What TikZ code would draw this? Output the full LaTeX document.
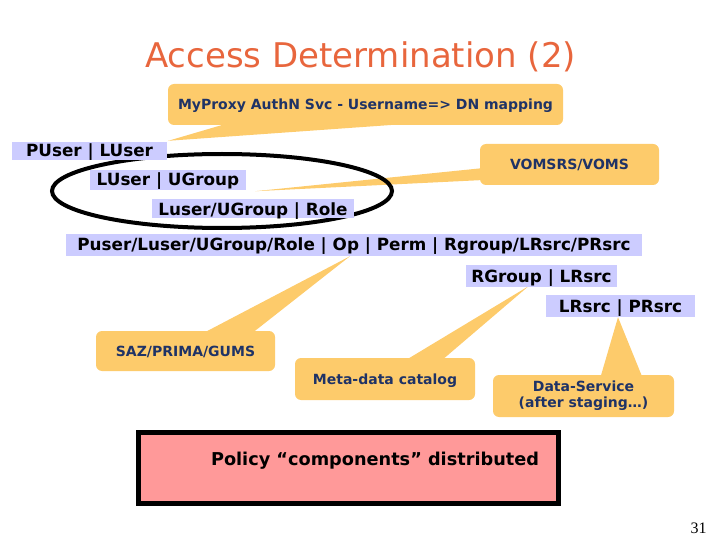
\documentclass[tikz,border=0pt]{standalone}
\usepackage{fontspec}
\setmainfont{DejaVu Sans}
\newfontfamily\pagenumfont{Liberation Serif}
\usepackage{tikz}
\usetikzlibrary{calc, shapes.geometric}

\definecolor{bubblefill}{HTML}{FDCB6B}
\definecolor{bubbleink}{HTML}{1F3366}
\definecolor{tagfill}{HTML}{CCCCFF}
\definecolor{policyfill}{HTML}{FF9999}
\definecolor{titleink}{HTML}{E8663D}

\pgfdeclarelayer{ptrlayer}
\pgfdeclarelayer{ringlayer}
\pgfsetlayers{ptrlayer,ringlayer,main}

\begin{document}
\begin{tikzpicture}[
    x=1pt, y=-1pt,
    heading/.style={font=\fontsize{34}{40}\selectfont, text=titleink, inner sep=0pt},
    tag/.style={fill=tagfill, inner sep=0pt, text height=12pt, text depth=0pt, font=\fontsize{16.8}{19}\selectfont\bfseries},
    bubble/.style={fill=bubblefill, rounded corners=6pt, inner sep=0pt, align=center, text=bubbleink, font=\fontsize{14}{16}\selectfont\bfseries},
    callptr/.style={fill=bubblefill},
    ring/.style={ellipse, draw, line width=4pt, inner sep=0pt},
    policy/.style={draw, line width=5pt, fill=policyfill, inner sep=0pt},
    policytext/.style={font=\fontsize{17.7}{20}\selectfont\bfseries, inner sep=0pt}
]
\useasboundingbox (0,0) rectangle (720,540);

% titel
\node[heading, anchor=base] (title) at (360.5,68) {Access Determination (2)};

% lilla felter
\node[tag, minimum width=155, minimum height=18] (puser) at (89.5,151) {PUser | LUser};
\node[tag, minimum width=156, minimum height=20] (luser) at (168,180) {LUser | UGroup};
\node[tag, minimum width=202, minimum height=19] (role) at (253,209) {Luser/UGroup | Role};
\node[tag, minimum width=576, minimum height=22] (perm) at (354,245) {Puser/Luser/UGroup/Role | Op | Perm | Rgroup/LRsrc/PRsrc};
\node[tag, minimum width=151, minimum height=22] (rgroup) at (541.5,276) {RGroup | LRsrc};
\node[tag, minimum width=149, minimum height=22] (lrsrc) at (620.5,306) {LRsrc | PRsrc};

% talebobler
\node[bubble, minimum width=395, minimum height=41, text height=10pt, text depth=0pt] (myproxy) at (365.5,104.5) {MyProxy AuthN Svc - Username=> DN mapping};
\node[bubble, minimum width=179, minimum height=41, text height=10pt, text depth=0pt] (voms) at (569.5,164.5) {VOMSRS/VOMS};
\node[bubble, minimum width=179, minimum height=40, text height=10pt, text depth=0pt] (saz) at (185.5,351) {SAZ/PRIMA/GUMS};
\node[bubble, minimum width=180, minimum height=42, text height=10pt, text depth=0pt] (meta) at (385,379) {Meta-data catalog};
\node[bubble, minimum width=181, minimum height=42] (dserv) at (583.5,396) {Data-Service\\(after staging…)};

% spidser
\coordinate (vomstip) at ($(luser.south east)+(9,1)$);
\begin{pgfonlayer}{ptrlayer}
\fill[callptr] ($(myproxy.south west)!0.17!(myproxy.south east)+(0,-4)$) -- ($(puser.north east)+(1,-1)$) -- ($(myproxy.south west)!0.7!(myproxy.south east)+(0,-4)$) -- cycle;
\fill[callptr] ($(voms.west)+(4,3.5)$) -- (vomstip) -- ($(voms.west)+(4,15.5)$) -- cycle;
\fill[callptr] ($(saz.north)+(14.5,4)$) -- ($(perm.south)+(-4,0)$) -- ($(saz.north)+(64.5,4)$) -- cycle;
\fill[callptr] ($(meta.north)+(18,4)$) -- ($(rgroup.south)+(-13,-1)$) -- ($(meta.north)+(55,4)$) -- cycle;
\fill[callptr] ($(dserv.north)+(16.5,4)$) -- ($(lrsrc.south)+(-2.5,0)$) -- ($(dserv.north)+(59.5,4)$) -- cycle;
\end{pgfonlayer}

% ring om brugerdelen
\begin{pgfonlayer}{ringlayer}
\node[ring, minimum width=340, minimum height=74] (ring) at (222,191) {};
\end{pgfonlayer}

% politik
\node[policy, minimum width=420, minimum height=71] (policy) at (348.5,468) {};
\node[policytext, anchor=base] (policytxt) at (375,465) {Policy “components” distributed};

% sidetal
\node[anchor=base, inner sep=0pt, font=\pagenumfont\fontsize{16}{18}\selectfont] (pgnum) at (698.5,533) {31};

\end{tikzpicture}
\end{document}
